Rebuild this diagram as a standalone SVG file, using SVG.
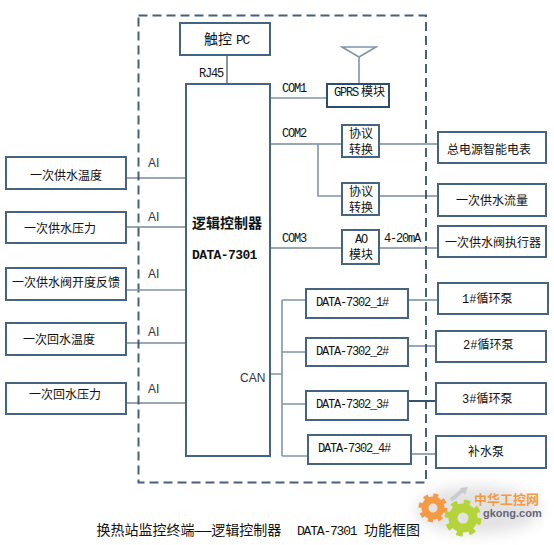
<svg xmlns="http://www.w3.org/2000/svg" width="554" height="545" viewBox="0 0 554 545">
<style>
.b{fill:#fff;stroke:#456482;stroke-width:2}
.c{fill:none;stroke:#34536f;stroke-width:1.2}
.l{fill:none;stroke:#7f95ad;stroke-width:1.6}
text{font-family:"Liberation Mono","Noto Sans CJK SC",monospace;fill:#111;font-size:12px}
.m{font-size:12px;letter-spacing:-1.2px}
.s{font-family:"Liberation Sans",sans-serif;fill:#334}
</style>
<defs><filter id="blur" x="-30%" y="-30%" width="160%" height="160%"><feGaussianBlur stdDeviation="7"/></filter></defs>
<rect width="554" height="545" fill="#fff"/>
<g id="watermark">
<ellipse cx="478" cy="510" rx="62" ry="24" fill="#e2e2e2" filter="url(#blur)"/>
<path d="M451 500L463 490" stroke="#c8ccd2" stroke-width="4" fill="none"/><path d="M460 488L468 487L465 495Z" fill="#c8ccd2"/>
<circle cx="433" cy="508" r="8" fill="none" stroke="#f49a45" stroke-width="7"/>
<circle cx="433" cy="508" r="12.5" fill="none" stroke="#f49a45" stroke-width="4" stroke-dasharray="4.9 4.9"/>
<circle cx="463" cy="518" r="10" fill="none" stroke="#b5d43c" stroke-width="9"/>
<circle cx="463" cy="518" r="16" fill="none" stroke="#b5d43c" stroke-width="5" stroke-dasharray="6.3 6.3"/>
<text x="474" y="504" style="font-size:13px;font-weight:bold;fill:#f49a45;font-family:'Noto Sans CJK SC',sans-serif">中华工控网</text>
<text x="483" y="517" style="font-size:11px;font-weight:bold;fill:#667;font-family:'Liberation Sans',sans-serif">gkong.com</text>
</g>
<g id="connectors">
<rect x="138.500" y="15.500" width="287.500" height="467" fill="none" stroke="#45617d" stroke-width="2" stroke-dasharray="9 5"/>
<path class="c" d="M227 55V84M270 144H342M379 144H438M379 196H438M270 248H342M379 248H438M126 227H186M408 300H438M408 346H436M411 454H436M126 343H186M126 403H186M126 178H186"/>
<path class="l" d="M270 98H327M318 144V196H342M126 290H186M359 57V83M342 47H376L359 57ZM270 374H282M282 300V456M282 300H306M282 352H306M282 404H306M282 456H308"/>
<path d="M408 401H436" fill="none" stroke="#34536f" stroke-width="2"/>
</g>
<g id="pc"><rect class="b" x="180" y="23" width="90" height="32"/><text x="204" y="44" style="font-size:14px">触控</text><text x="236" y="44" style="font-size:13px;letter-spacing:-1.3px">PC</text></g>
<g id="controller"><rect class="b" x="186" y="84" width="84" height="372"/><text x="192" y="228" style="font-size:14px;font-weight:bold">逻辑控制器</text><text x="192" y="259" style="font-weight:bold;font-size:13px;letter-spacing:-0.6px">DATA-7301</text></g>
<g id="gprs"><rect class="b" x="327" y="84" width="62" height="23" style="stroke:#2c4d70"/><text x="334" y="96" class="m">GPRS</text><text x="361" y="96">模块</text></g>
<g id="in1"><rect class="b" x="6" y="157" width="120" height="32"/><text x="30" y="180">一次供水温度</text></g>
<g id="in2"><rect class="b" x="6" y="212" width="120" height="31"/><text x="24" y="233">一次供水压力</text></g>
<g id="in3"><rect class="b" x="6" y="268" width="120" height="32"/><text x="12" y="287">一次供水阀开度反馈</text></g>
<g id="in4"><rect class="b" x="6" y="323" width="120" height="32"/><text x="23" y="344">一次回水温度</text></g>
<g id="in5"><rect class="b" x="6" y="383" width="120" height="31"/><text x="29" y="399">一次回水压力</text></g>
<g id="conv1"><rect class="b" x="342" y="125" width="37" height="32"/><text x="349" y="138">协议</text><text x="349" y="154">转换</text></g>
<g id="conv2"><rect class="b" x="342" y="183" width="37" height="32"/><text x="349" y="196">协议</text><text x="349" y="212">转换</text></g>
<g id="ao"><rect class="b" x="342" y="230" width="37" height="34"/><text x="355" y="243" class="m">AO</text><text x="349" y="259">模块</text></g>
<g id="meter"><rect class="b" x="438" y="132" width="108" height="31"/><text x="447" y="154">总电源智能电表</text></g>
<g id="flow"><rect class="b" x="438" y="184" width="108" height="32"/><text x="456" y="205">一次供水流量</text></g>
<g id="actuator"><rect class="b" x="438" y="226" width="108" height="31"/><text x="445" y="247">一次供水阀执行器</text></g>
<g id="d1"><rect class="b" x="306" y="289" width="102" height="29"/><text x="316" y="306" class="m">DATA-7302_1#</text></g>
<g id="d2"><rect class="b" x="306" y="338" width="102" height="28"/><text x="316" y="355" class="m">DATA-7302_2#</text></g>
<g id="d3"><rect class="b" x="306" y="391" width="102" height="29"/><text x="316" y="408" class="m">DATA-7302_3#</text></g>
<g id="d4"><rect class="b" x="308" y="435" width="103" height="29"/><text x="318" y="452" class="m">DATA-7302_4#</text></g>
<g id="p1"><rect class="b" x="438" y="283" width="110" height="31"/><text x="462" y="303">1#循环泵</text></g>
<g id="p2"><rect class="b" x="436" y="331" width="110" height="31"/><text x="463" y="349">2#循环泵</text></g>
<g id="p3"><rect class="b" x="436" y="383" width="110" height="31"/><text x="462" y="403">3#循环泵</text></g>
<g id="p4"><rect class="b" x="436" y="436" width="110" height="32"/><text x="468" y="456">补水泵</text></g>
<g id="labels">
<text class="m" x="199" y="77">RJ45</text><text class="m" x="282" y="92">COM1</text><text class="m" x="282" y="137">COM2</text><text class="m" x="282" y="242">COM3</text><text class="m" x="384" y="242">4-20mA</text>
<text class="s" x="148" y="167">AI</text><text class="s" x="148" y="221">AI</text><text class="s" x="148" y="278">AI</text><text class="s" x="148" y="336">AI</text><text class="s" x="148" y="393">AI</text><text class="s" x="240" y="382">CAN</text>
<text x="96.500" y="535" style="font-size:14px">换热站监控终端——逻辑控制器</text><text x="297" y="535" style="font-size:13px;letter-spacing:-1.2px">DATA-7301</text><text x="364" y="535" style="font-size:14px">功能框图</text>
</g>
</svg>
